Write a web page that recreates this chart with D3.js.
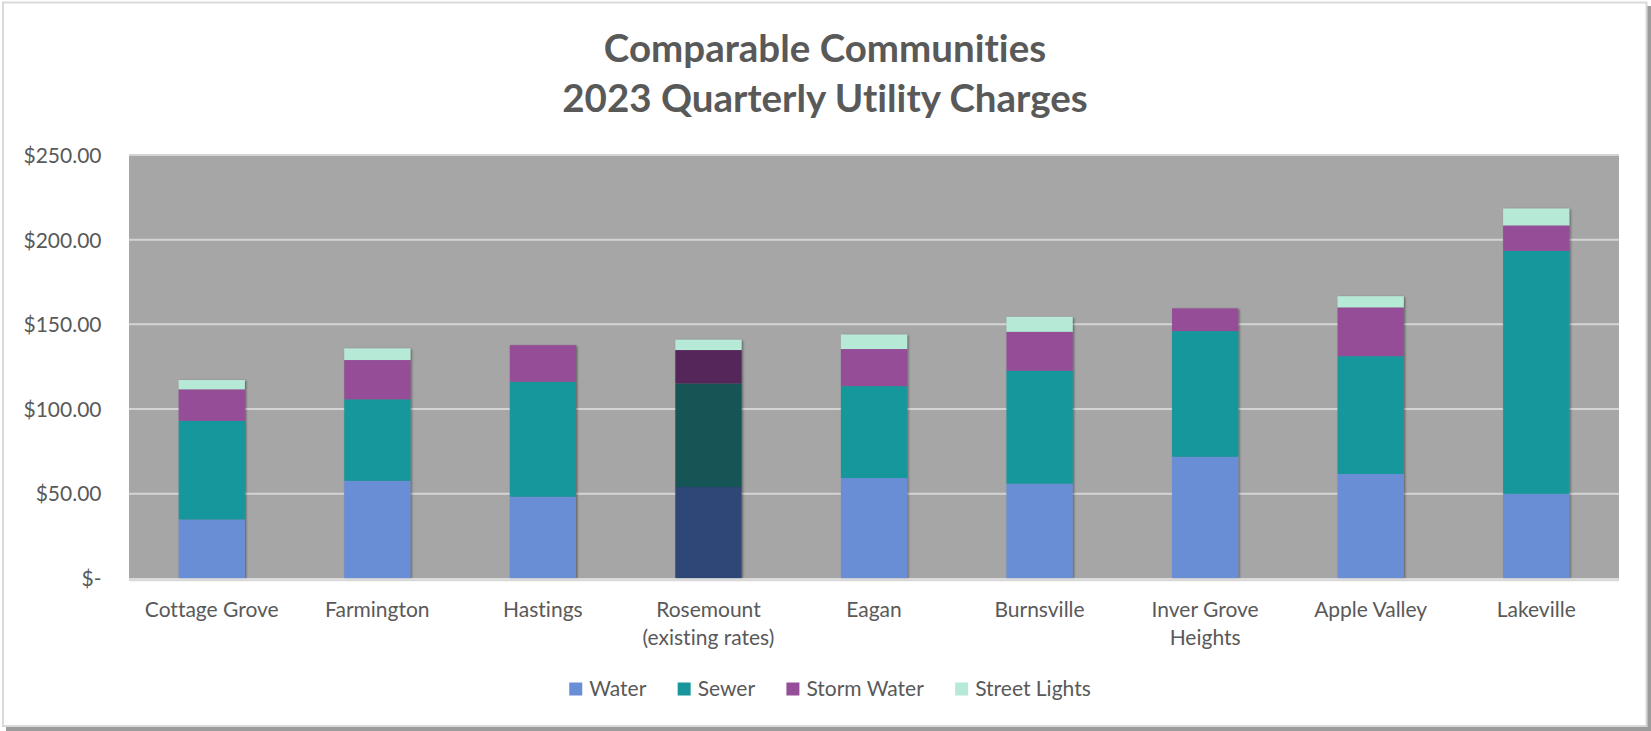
<!DOCTYPE html>
<html>
<head>
<meta charset="utf-8">
<script src="https://cdn.jsdelivr.net/npm/d3@7"></script>
<style>
  html, body { margin: 0; padding: 0; background: #ffffff; }
  svg { display: block; }
  text { font-family: "Lato", "Open Sans", sans-serif; fill: #595959; font-variant-ligatures: none; font-feature-settings: "liga" 0, "clig" 0; }
</style>
</head>
<body>
<svg id="chart" width="1651" height="731"></svg>
<script>
// ---- data ----
const categories = ["Cottage Grove", "Farmington", "Hastings", "Rosemount (existing rates)", "Eagan", "Burnsville", "Inver Grove Heights", "Apple Valley", "Lakeville"];
const categoryLabels = [["Cottage Grove"], ["Farmington"], ["Hastings"], ["Rosemount", "(existing rates)"], ["Eagan"], ["Burnsville"], ["Inver Grove", "Heights"], ["Apple Valley"], ["Lakeville"]];
const seriesNames = ["Water", "Sewer", "Storm Water", "Street Lights"];
const water        = [34.8, 57.6, 48.2, 53.9, 59.2, 55.9, 71.8, 61.6, 49.9];
const sewer        = [58.2, 48.1, 67.9, 61.2, 54.3, 66.7, 74.2, 69.6, 143.5];
const stormWater   = [18.6, 23.2, 21.6, 19.7, 21.9, 23.0, 13.4, 28.8, 15.0];
const streetLights = [5.5, 6.9, 0, 6.1, 8.6, 8.8, 0, 6.6, 10.0];
const yTickValues  = [0, 50, 100, 150, 200, 250];
const yTickLabels  = ["$-", "$50.00", "$100.00", "$150.00", "$200.00", "$250.00"];
const titleLines   = ["Comparable Communities", "2023 Quarterly Utility Charges"];
const highlightCategory = "Rosemount (existing rates)";

// ---- styles ----
const colors = ["#6A8ED5", "#17979C", "#954E98", "#B7E9D7"];
const highlightColors = ["#2D4777", "#185456", "#55265A", "#B7E9D7"];

const svg = d3.select("#chart");
const plot = { left: 129, right: 1619, top: 155, bottom: 578.3 };

// outer border with shadow
svg.append("rect").attr("x", 1647).attr("y", 6).attr("width", 4).attr("height", 725).attr("fill", "#9c9c9c");
svg.append("rect").attr("x", 6).attr("y", 727).attr("width", 1645).attr("height", 4).attr("fill", "#9c9c9c");
svg.append("rect").attr("x", 3).attr("y", 2.5).attr("width", 1643.5).attr("height", 723.5)
  .attr("fill", "#ffffff").attr("stroke", "#d9d9d9").attr("stroke-width", 2);

// defs: bar shadow
const defs = svg.append("defs");
const f = defs.append("filter").attr("id", "shadow").attr("x", "-10%").attr("y", "-10%").attr("width", "130%").attr("height", "130%");
f.append("feDropShadow").attr("dx", 1.2).attr("dy", 0.8).attr("stdDeviation", 0.8).attr("flood-color", "#000").attr("flood-opacity", 0.45);

// title
svg.append("g").selectAll("text").data(titleLines).join("text")
  .attr("x", 825).attr("y", (d, i) => 62 + i * 50)
  .attr("text-anchor", "middle")
  .style("font-size", "38.5px").style("font-weight", "bold")
  .text(d => d);

// scales
const x = d3.scaleBand().domain(categories).range([plot.left, plot.right]).paddingInner(0.6).paddingOuter(0.3);
const y = d3.scaleLinear().domain([0, 250]).range([plot.bottom, plot.top]);

// plot background
svg.append("rect").attr("x", plot.left).attr("y", plot.top - 1)
  .attr("width", plot.right - plot.left).attr("height", plot.bottom - plot.top + 1)
  .attr("fill", "#A6A6A6");

// gridlines
svg.append("g").selectAll("line").data(yTickValues.filter(v => v > 0)).join("line")
  .attr("x1", plot.left).attr("x2", plot.right)
  .attr("y1", d => y(d)).attr("y2", d => y(d))
  .attr("stroke", "#D4D4D4").attr("stroke-width", 2);

// y axis labels
const yAxis = d3.axisLeft(y).tickValues(yTickValues).tickSize(0).tickPadding(0)
  .tickFormat(d => yTickLabels[yTickValues.indexOf(d)]);
const yg = svg.append("g").attr("transform", `translate(${101.5},0)`).call(yAxis);
yg.select(".domain").remove();
yg.selectAll("text").attr("fill", "#595959").style("font-size", "21px")
  .style("font-family", '"Lato", sans-serif').attr("dy", "0.35em").attr("x", 0);

// stacked data
const table = categories.map((c, i) => ({ cat: c, "Water": water[i], "Sewer": sewer[i], "Storm Water": stormWater[i], "Street Lights": streetLights[i] }));
const stack = d3.stack().keys(seriesNames)(table);

// bars
const barGroups = svg.append("g").selectAll("g.cat").data(categories).join("g")
  .attr("class", "cat").attr("filter", "url(#shadow)");
barGroups.each(function (cat, ci) {
  const g = d3.select(this);
  stack.forEach((layer, si) => {
    const d = layer[ci];
    if (d[1] - d[0] <= 0) return;
    g.append("rect")
      .attr("x", x(cat)).attr("width", x.bandwidth())
      .attr("y", y(d[1])).attr("height", y(d[0]) - y(d[1]))
      .attr("fill", cat === highlightCategory ? highlightColors[si] : colors[si]);
  });
});

// x axis line
svg.append("line").attr("x1", plot.left).attr("x2", plot.right)
  .attr("y1", plot.bottom + 1.5).attr("y2", plot.bottom + 1.5)
  .attr("stroke", "#D9D9D9").attr("stroke-width", 3);

// x labels
const xl = svg.append("g").selectAll("text").data(categories).join("text")
  .attr("text-anchor", "middle").style("font-size", "21px")
  .attr("x", d => x(d) + x.bandwidth() / 2).attr("y", 616.5);
xl.each(function (d, i) {
  const t = d3.select(this);
  categoryLabels[i].forEach((line, li) => {
    t.append("tspan").attr("x", x(d) + x.bandwidth() / 2).attr("dy", li === 0 ? 0 : 28).text(line);
  });
});

// legend
const legend = svg.append("g");
const items = legend.selectAll("g").data(seriesNames).join("g");
items.append("rect").attr("width", 13).attr("height", 13).attr("y", -6.5).attr("fill", (d, i) => colors[i]);
items.append("text").attr("x", 20).attr("dy", "0.35em").style("font-size", "21px").text(d => d);
let cx = 0;
const pos = [];
const gap = 31;
items.each(function () {
  const w = this.getBBox().width;
  pos.push(cx);
  cx += w + gap;
});
const totalW = cx - gap;
const startX = 830 - totalW / 2;
items.attr("transform", (d, i) => `translate(${startX + pos[i]},${689})`);
</script>
</body>
</html>
